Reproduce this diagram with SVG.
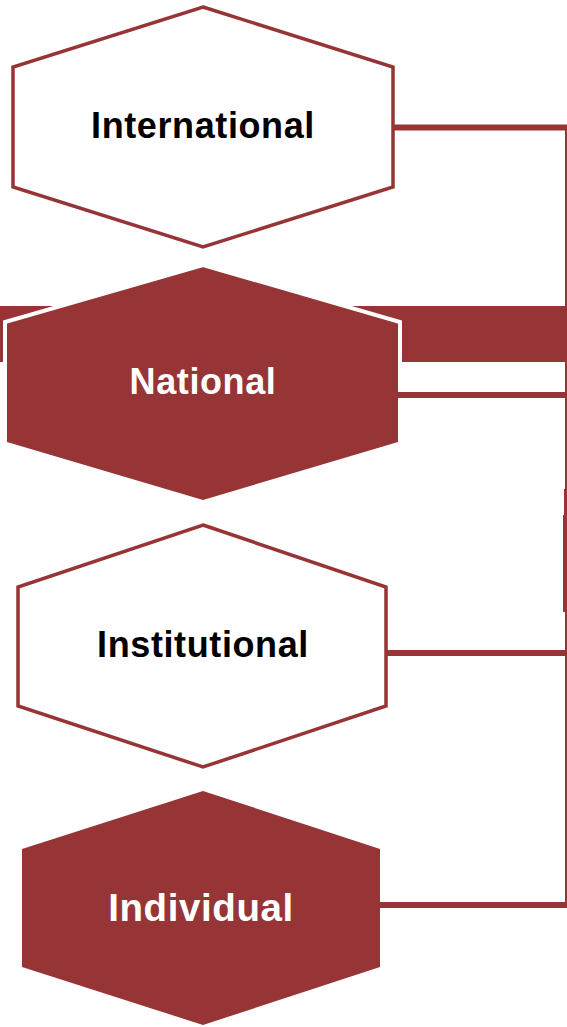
<svg xmlns="http://www.w3.org/2000/svg" width="567" height="1027" viewBox="0 0 567 1027">
  <style>
    .line { stroke: #963436; fill: none; }
    .hexw { fill: #ffffff; stroke: #963436; stroke-width: 3.5; stroke-linejoin: miter; }
    .hexf { fill: #963436; }
    .lbl { font-family: "Liberation Sans", Arial, sans-serif; font-weight: bold; font-size: 36px; text-anchor: middle; letter-spacing: 0.6px; }
  </style>
  <defs>
    <clipPath id="bandclip">
      <rect x="0" y="0" width="567" height="362"/>
    </clipPath>
  </defs>
  <g id="connectors">
    <rect x="0" y="306" width="567" height="56" fill="#963436"/>
    <line class="line" x1="566" y1="127.5" x2="566" y2="907" stroke-width="2"/>
    <rect x="564" y="489" width="3" height="123" fill="#963436"/>
    <rect x="563" y="515" width="4" height="97" fill="#963436"/>
    <line class="line" x1="393" y1="127.5" x2="567" y2="127.5" stroke-width="6"/>
    <line class="line" x1="397" y1="395" x2="567" y2="395" stroke-width="6"/>
    <line class="line" x1="385" y1="653" x2="567" y2="653" stroke-width="6"/>
    <line class="line" x1="379" y1="905" x2="567" y2="905" stroke-width="6"/>
  </g>
  <g id="node-international">
    <polygon class="hexw" points="203,7 393,67 393,187 203,247 13,187 13,67"/>
    <text class="lbl" x="203" y="138" fill="#000000">International</text>
  </g>
  <g id="node-national">
    <polygon class="hexf" points="203,266 398,323 398,442 203,500 7,442 7,323"/>
    <polygon points="203,265 400,322 400,442 203,500 5,442 5,322" fill="none" stroke="#ffffff" stroke-width="4" clip-path="url(#bandclip)"/>
    <text class="lbl" x="203" y="394" fill="#ffffff">National</text>
  </g>
  <g id="node-institutional">
    <polygon class="hexw" points="203,525 386,587 386,706 203,767 18,706 18,587"/>
    <text class="lbl" x="203" y="657" fill="#000000">Institutional</text>
  </g>
  <g id="node-individual">
    <polygon class="hexf" points="203,791 380,849 380,967 203,1025 22,967 22,849"/>
    <text class="lbl" x="201" y="921" fill="#ffffff" style="font-size:38.5px">Individual</text>
  </g>
</svg>
